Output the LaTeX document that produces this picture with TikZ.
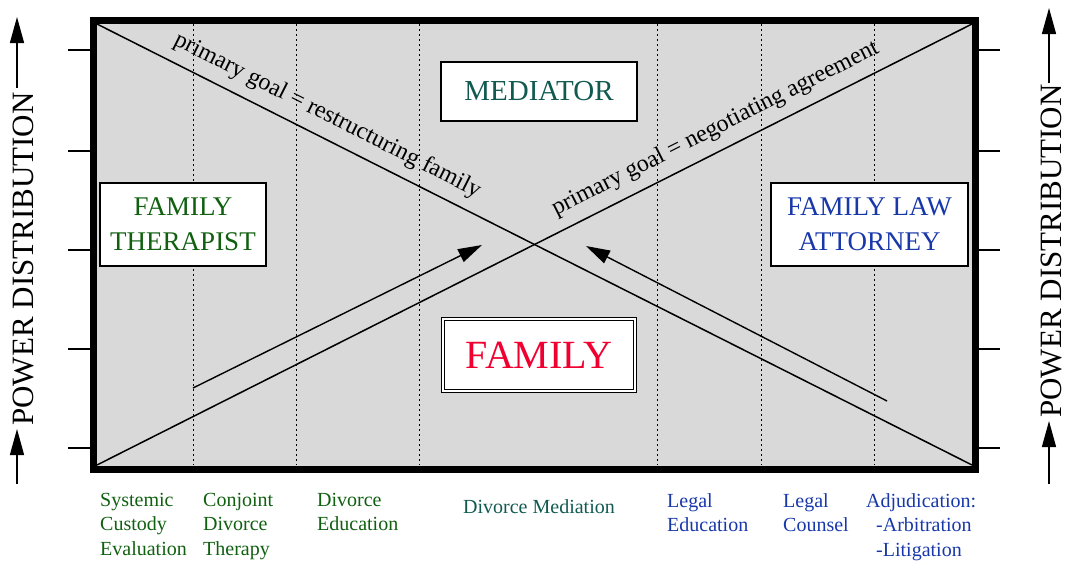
\documentclass[tikz,border=0pt]{standalone}
\usepackage{fontspec}
\setmainfont{Liberation Serif}
\usetikzlibrary{arrows.meta}
\definecolor{panelgray}{HTML}{D9D9D9}
\definecolor{thergreen}{RGB}{16,96,16}
\definecolor{medteal}{RGB}{16,90,80}
\definecolor{lawblue}{RGB}{24,56,170}
\definecolor{famred}{RGB}{240,0,48}
\newcommand{\fsz}[2]{\fontsize{#1}{#2}\selectfont}
\tikzset{
  rolebox/.style={draw=black, line width=1.3pt, fill=white, align=center, inner sep=0pt},
  divider/.style={line width=1pt, dash pattern=on 1.5pt off 3.5pt},
  diag/.style={line width=1.5pt},
  flow/.style={line width=1.4pt, -{Triangle[length=24pt,width=14pt]}},
  axisarrow/.style={line width=1.4pt, -{Triangle[length=26pt,width=14pt]}},
  goal/.style={font=\fsz{24}{28}, sloped, above=8pt, inner sep=2pt},
  activity/.style={anchor=north west, align=left, inner sep=0pt, font=\fsz{20}{24.5}},
  ruletick/.style={line width=1.4pt},
  axislabel/.style={rotate=90, anchor=base, inner sep=0pt, font=\fsz{31}{34}},
}
\begin{document}
\begin{tikzpicture}[x=1pt,y=-1pt]
\useasboundingbox (0,0) rectangle (1066,563);

% panel and its corners
\coordinate (NW) at (93,20.5);
\coordinate (SE) at (975.5,469);
\fill[panelgray] (NW) rectangle (SE);
\coordinate (iNW) at (97,24);
\coordinate (iNE) at (972,24);
\coordinate (iSW) at (97,465);
\coordinate (iSE) at (972,465);

% column dividers
\foreach \x in {193,296,419,657,761,874}
  \draw[divider] (\x,24) -- (\x,465);

% crossing diagonals with their goals
\draw[diag] (iNW) -- (iSE) node[goal,pos=0.252] (goalA) {primary goal = restructuring family};
\draw[diag] (iSW) -- (iNE) node[goal,pos=0.718] (goalB) {primary goal = negotiating agreement};

% roles
\node[rolebox, minimum width=196, minimum height=59, font=\fsz{29}{34}, text=medteal] (med) at (539,91.5) {MEDIATOR};
\node[rolebox, minimum width=166, minimum height=83, font=\fsz{27}{35}, text=thergreen] (ther) at (183,224.5) {FAMILY\\THERAPIST};
\node[rolebox, minimum width=197, minimum height=83, font=\fsz{27}{35}, text=lawblue] (law) at (869.5,224.5) {FAMILY LAW\\ATTORNEY};
\node[draw=black, double=white, double distance=2pt, line width=1.2pt, fill=white,
      minimum width=191.6, minimum height=71.6, inner sep=0pt,
      font=\fsz{40}{44}, text=famred] (fam) at (539,355) {FAMILY};

% movement toward the centre
\coordinate (a1s) at (193,388);
\coordinate (a1e) at (482,245);
\coordinate (a2s) at (887,401);
\coordinate (a2e) at (586,246);
\draw[flow] (a1s) -- (a1e);
\draw[flow] (a2s) -- (a2e);

% scale ticks on both sides
\foreach \y in {50,151,250,349,448} {
  \draw[ruletick] (68,\y) -- (90,\y);
  \draw[ruletick] (979,\y) -- (1000,\y);
}

% heavy frame
\draw[line width=7pt] (NW) rectangle (SE);

% power distribution axes
\node[axislabel] (powL) at (33,259) {POWER DISTRIBUTION};
\coordinate (lb0) at (17,484); \coordinate (lb1) at (17,429);
\coordinate (lt0) at (17,88);  \coordinate (lt1) at (17,17);
\draw[axisarrow] (lb0) -- (lb1);
\draw[axisarrow] (lt0) -- (lt1);

\node[axislabel] (powR) at (1061,251) {POWER DISTRIBUTION};
\coordinate (rb0) at (1049,484); \coordinate (rb1) at (1049,421);
\coordinate (rt0) at (1049,83);  \coordinate (rt1) at (1049,8);
\draw[axisarrow] (rb0) -- (rb1);
\draw[axisarrow] (rt0) -- (rt1);

% services along the bottom
\node[activity, text=thergreen] (s1) at (100,493) {Systemic\\Custody\\Evaluation};
\node[activity, text=thergreen] (s2) at (203,493) {Conjoint\\Divorce\\Therapy};
\node[activity, text=thergreen] (s3) at (317,493) {Divorce\\Education};
\node[anchor=base, inner sep=0pt, font=\fsz{20}{24.5}, text=medteal] (s4) at (539,513) {Divorce Mediation};
\node[activity, text=lawblue] (s5) at (667,493) {Legal\\Education};
\node[activity, text=lawblue] (s6) at (783,493) {Legal\\Counsel};
\node[activity, text=lawblue] (s7) at (866,493) {Adjudication:\\\hspace*{10pt}-Arbitration\\\hspace*{10pt}-Litigation};
\end{tikzpicture}
\end{document}
